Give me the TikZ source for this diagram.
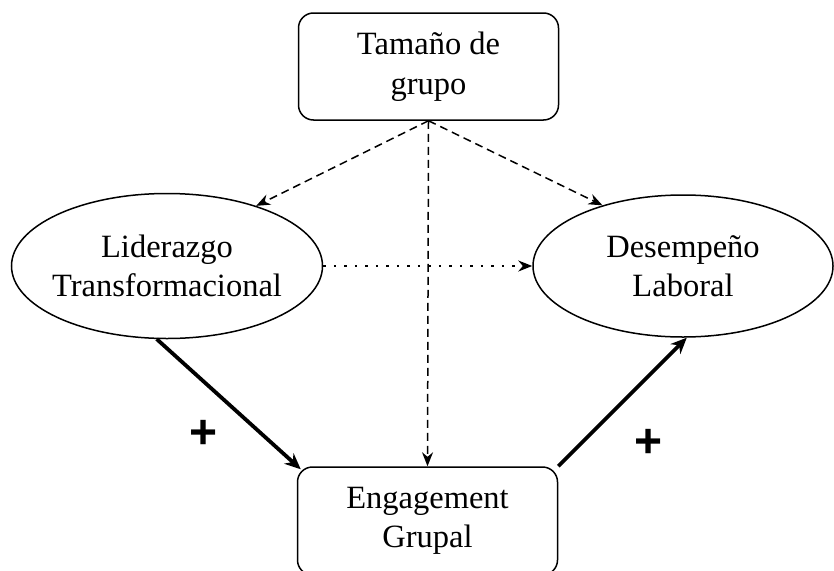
\documentclass[tikz,border=0pt]{standalone}
\usepackage{fontspec}
\setmainfont{Liberation Serif}
\newfontfamily\plusfont{Liberation Sans}
\usetikzlibrary{shapes.geometric,arrows.meta,calc}
\begin{document}
\begin{tikzpicture}[x=1pt,y=-1pt,
  lbl/.style={font=\fontsize{32.5}{39.5}\selectfont, align=center},
  boxnode/.style={lbl, draw, line width=1.5pt, rounded corners=15pt, minimum width=260pt, inner sep=0pt},
  ellnode/.style={lbl, draw, ellipse, line width=1.5pt, inner xsep=-25pt, inner ysep=-10pt},
  dsh/.style={line width=1.5pt, dash pattern=on 8pt off 5pt, -{Stealth[length=14pt,width=11pt]}},
  dtt/.style={line width=1.6pt, dash pattern=on 2.5pt off 8pt, -{Stealth[length=14pt,width=11pt]}},
  thk/.style={line width=3.8pt, -{Stealth[length=16pt,width=14pt]}},
  plussign/.style={font=\plusfont\bfseries\fontsize{48}{48}\selectfont, inner sep=0pt}
]
\useasboundingbox (0,0) rectangle (834,570);
\node[boxnode, minimum height=107pt] (tg) at (428.5,66.5) {Tamaño de\\grupo};
\node[boxnode, minimum height=108pt] (eg) at (427.5,521) {Engagement\\Grupal};
\node[ellnode, minimum width=311pt, minimum height=145pt] (lt) at (167,266) {Liderazgo\\Transformacional};
\node[ellnode, minimum width=300pt, minimum height=142pt] (rt) at (683,266) {Desempeño\\Laboral};
\draw[dsh] (tg.south) -- (lt.34);
\draw[dsh] (tg.south) -- (rt.143);
\draw[dsh] (tg.south) -- (eg.north);
\draw[dtt] (lt.east) -- (rt.west);
\draw[thk] (lt.262) -- ($(eg.north west)+(4,3)$);
\draw[thk] (eg.north east) -- (rt.273);
\node[plussign] (p1) at (204,434) {+};
\node[plussign] (p2) at (649,443) {+};
\end{tikzpicture}
\end{document}
